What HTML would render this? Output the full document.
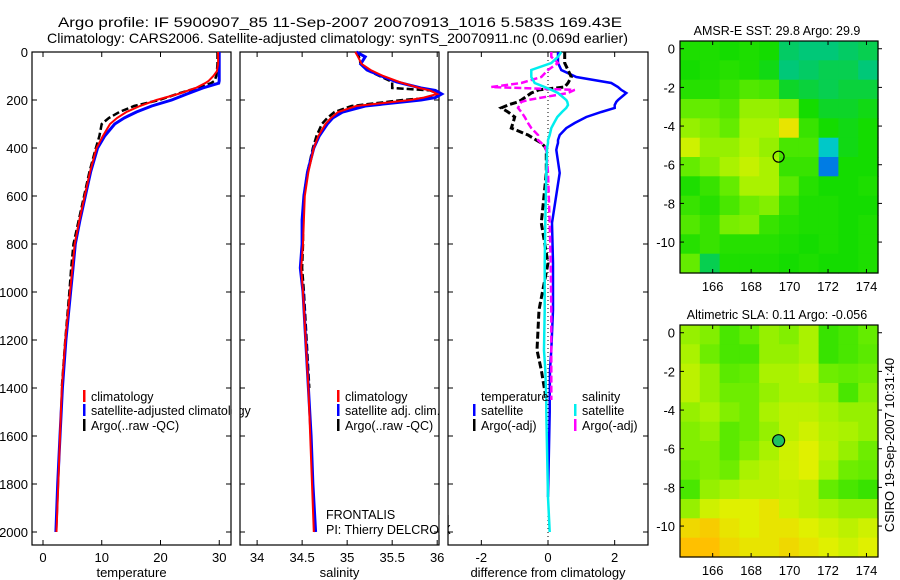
<!DOCTYPE html>
<html><head><meta charset="utf-8"><style>
html,body{margin:0;padding:0;background:#fff;}
svg{display:block;font-family:"Liberation Sans",sans-serif;}
</style></head><body>
<svg id="chart" width="900" height="580" viewBox="0 0 900 580" xmlns="http://www.w3.org/2000/svg">
<text x="58" y="27" font-size="14" textLength="564" lengthAdjust="spacingAndGlyphs">Argo profile: IF 5900907_85 11-Sep-2007 20070913_1016 5.583S 169.43E</text>
<text x="47" y="43" font-size="14" textLength="581" lengthAdjust="spacingAndGlyphs">Climatology: CARS2006. Satellite-adjusted climatology: synTS_20070911.nc (0.069d earlier)</text>
<g id="g"></g>
<text transform="translate(894,445) rotate(-90)" font-size="13" text-anchor="middle">CSIRO 19-Sep-2007 10:31:40</text>
</svg>
<script>
// ---- data ----
const depthT = [0,50,80,100,120,130,150,175,200,225,250,275,300,350,400,500,600,700,800,900,1000,1200,1400,1600,1800,2000];
const tempClim = [29.8,29.8,29.6,29.0,28.2,27.6,26.0,23.0,19.3,16.5,14.2,12.6,11.4,10.2,9.1,8.0,7.1,6.2,5.4,5.0,4.6,3.8,3.2,2.9,2.6,2.3];
const tempSat  = [30.0,30.0,30.0,30.0,30.0,29.9,27.2,24.5,21.9,18.5,15.9,13.8,12.2,10.5,9.3,8.1,7.2,6.3,5.5,5.1,4.7,3.9,3.3,2.9,2.5,2.2];
const tempArgo = [29.7,29.7,29.6,29.5,29.2,28.6,26.2,22.8,19.8,15.5,13.0,11.2,10.0,9.6,9.0,7.9,7.0,6.1,5.2,4.8,4.5,3.8,3.2,null,null,null];
const depthS = [0,20,50,75,100,125,150,160,175,190,200,225,250,275,300,350,400,500,600,700,800,900,1000,1200,1400,1600,1800,2000];
const salClim = [35.09,35.12,35.16,35.26,35.40,35.58,35.80,35.92,36.00,35.85,35.70,35.10,34.90,34.82,34.76,34.68,34.63,34.57,34.53,34.52,34.51,34.49,34.51,34.54,34.57,34.59,34.61,34.63];
const salSat  = [35.10,35.20,35.15,35.22,35.38,35.55,35.82,35.98,36.05,35.98,35.82,35.20,34.95,34.84,34.78,34.69,34.63,34.56,34.52,34.50,34.50,34.48,34.51,34.54,34.57,34.60,34.62,34.65];
const salArgo = [35.10,35.13,35.15,35.22,35.36,35.50,35.50,35.92,36.02,35.95,35.62,35.05,34.86,34.78,34.72,34.66,34.62,34.56,34.52,34.51,34.51,34.50,34.52,34.55,34.58,null,null,null];
const depthD = [0,20,46,75,104,129,146,158,171,200,208,221,233,250,271,296,317,346,367,379,394,408,504,712,880,1075,1242,1325,1450,1500,1854,2000];
const dTempSat = [0.3,0.3,0.3,0.4,0.85,1.9,2.1,2.2,2.35,2.1,2.05,2.0,2.0,1.6,1.15,0.8,0.55,0.35,0.3,0.3,0.27,0.25,0.35,0.12,0.15,0.15,0.1,0.06,0.05,0.05,0.0,null];
const dSalSat  = [0.4,0.3,0.1,-0.5,-0.5,-0.4,-0.1,0.1,0.3,0.55,0.58,0.6,0.55,0.42,0.28,0.18,0.1,0.05,0.0,0.0,-0.02,-0.03,-0.05,-0.08,-0.1,-0.1,-0.12,-0.08,-0.05,-0.05,0.0,0.05];
const dTempArgo= [0.5,0.5,0.5,0.6,0.7,0.6,0.5,-0.27,-0.5,-0.8,-0.9,-1.2,-1.4,-1.2,-1.0,-1.05,-1.1,-0.6,-0.35,-0.2,-0.1,-0.05,-0.05,-0.2,0.0,-0.27,-0.33,-0.2,-0.05,null,null,null];
const dSalArgo = [0.1,0.1,0.3,0.0,-0.2,-0.8,-1.7,0.8,0.6,-0.6,-0.8,-0.85,-0.9,-0.8,-0.7,-0.6,-0.5,-0.3,-0.3,-0.2,-0.1,-0.05,0.0,0.05,0.08,0.1,0.1,0.1,0.1,null,null,null];
const depthTicks = [0,200,400,600,800,1000,1200,1400,1600,1800,2000];
const tempTicks = [0,10,20,30];
const salTicks = [34,34.5,35,35.5,36];
const diffTicks = [-2,0,2];
const lonTicks = [166,168,170,172,174];
const latTicks = [0,-2,-4,-6,-8,-10];
const sstGrid = [
[0.47,0.47,0.46,0.47,0.46,0.41,0.40,0.40,0.41,0.42],
[0.46,0.47,0.48,0.47,0.45,0.40,0.41,0.42,0.42,0.40],
[0.48,0.48,0.50,0.53,0.52,0.44,0.43,0.42,0.43,0.43],
[0.55,0.55,0.53,0.60,0.60,0.58,0.46,0.44,0.44,0.45],
[0.60,0.58,0.55,0.62,0.62,0.70,0.50,0.46,0.45,0.46],
[0.66,0.60,0.60,0.63,0.60,0.52,0.52,0.35,0.45,0.46],
[0.55,0.58,0.62,0.65,0.62,0.50,0.50,0.30,0.46,0.46],
[0.47,0.50,0.55,0.62,0.62,0.54,0.48,0.46,0.46,0.47],
[0.50,0.48,0.52,0.56,0.58,0.50,0.47,0.47,0.46,0.46],
[0.53,0.50,0.57,0.58,0.50,0.48,0.47,0.47,0.46,0.47],
[0.48,0.50,0.48,0.48,0.48,0.47,0.46,0.47,0.46,0.47],
[0.55,0.42,0.47,0.47,0.47,0.46,0.47,0.46,0.46,0.47]];
const slaGrid = [
[0.60,0.58,0.52,0.55,0.60,0.58,0.62,0.50,0.52,0.55],
[0.62,0.56,0.52,0.52,0.60,0.60,0.62,0.50,0.52,0.54],
[0.64,0.60,0.54,0.55,0.62,0.62,0.64,0.56,0.55,0.56],
[0.64,0.60,0.56,0.56,0.60,0.62,0.62,0.60,0.52,0.58],
[0.60,0.62,0.58,0.56,0.62,0.64,0.64,0.62,0.60,0.60],
[0.58,0.60,0.54,0.56,0.60,0.64,0.66,0.63,0.62,0.60],
[0.58,0.58,0.54,0.58,0.62,0.66,0.68,0.64,0.60,0.56],
[0.56,0.58,0.56,0.62,0.64,0.66,0.68,0.62,0.56,0.55],
[0.52,0.60,0.62,0.64,0.64,0.65,0.64,0.55,0.52,0.50],
[0.60,0.66,0.68,0.68,0.70,0.66,0.64,0.62,0.60,0.60],
[0.72,0.74,0.70,0.68,0.70,0.70,0.68,0.66,0.64,0.66],
[0.76,0.76,0.72,0.70,0.70,0.72,0.70,0.68,0.66,0.68]];
const floatPos = [169.43,-5.583];

// ---- drawing ----
const NS='http://www.w3.org/2000/svg';
const G=document.getElementById('g');
function mk(tag,attrs,parent){const e=document.createElementNS(NS,tag);for(const k in attrs)e.setAttribute(k,attrs[k]);(parent||G).appendChild(e);return e;}
const PT=52,PB=545;
const yD=d=>PT+d*0.24;
const panels=[
 {x0:32,x1:231,vmin:-1.87,vmax:32.0,ticks:tempTicks,title:'temperature',name:'temperature-panel'},
 {x0:240,x1:439,vmin:33.81,vmax:36.02,ticks:salTicks,title:'salinity',name:'salinity-panel'},
 {x0:448,x1:648,vmin:-3.0,vmax:3.0,ticks:diffTicks,title:'difference from climatology',name:'difference-panel'}];
panels.forEach(p=>{p.sx=v=>p.x0+(v-p.vmin)/(p.vmax-p.vmin)*(p.x1-p.x0);});
function line(p,depths,vals,color,w,dash,name){
 let d='',pen=false;
 vals.forEach((v,i)=>{if(v===null){pen=false;return;}d+=(pen?'L':'M')+p.sx(v).toFixed(1)+','+yD(depths[i]).toFixed(1);pen=true;});
 const e=mk('path',{d:d,fill:'none',stroke:color,'stroke-width':w});
 if(dash)e.setAttribute('stroke-dasharray',dash);
 
 
}
panels.forEach((p,pi)=>{
 const g=mk('g',{});
 
 
 const fr=mk('rect',{x:p.x0,y:PT,width:p.x1-p.x0,height:PB-PT,fill:'none',stroke:'#000','stroke-width':1.2},g);
 
 
 depthTicks.forEach(d=>{
  mk('line',{x1:p.x0,x2:p.x0+5,y1:yD(d),y2:yD(d),stroke:'#000'},g);
  mk('line',{x1:p.x1-5,x2:p.x1,y1:yD(d),y2:yD(d),stroke:'#000'},g);
  if(pi===0){const t=mk('text',{x:28,y:yD(d)+5,'font-size':13,'text-anchor':'end'},g);t.textContent=d;
   
   }
 });
 p.ticks.forEach(v=>{
  const x=p.sx(v);
  mk('line',{x1:x,x2:x,y1:PT,y2:PT+5,stroke:'#000'},g);
  mk('line',{x1:x,x2:x,y1:PB-5,y2:PB,stroke:'#000'},g);
  const t=mk('text',{x:x,y:562,'font-size':13,'text-anchor':'middle'},g);t.textContent=v;
  
  
 });
 const t=mk('text',{x:(p.x0+p.x1)/2,y:577,'font-size':13,'text-anchor':'middle'},g);t.textContent=p.title;
 
 
});
const [P1,P2,P3]=panels;
mk('line',{x1:P3.sx(0),x2:P3.sx(0),y1:PT,y2:PB,stroke:'#000','stroke-dasharray':'1,3'});
line(P1,depthT,tempArgo,'#000',2.5,'7,3','temp-argo-line');
line(P1,depthT,tempSat,'#0000ff',3,null,'temp-satellite-line');
line(P1,depthT,tempClim,'#ff0000',2,null,'temp-climatology-line');
line(P2,depthS,salArgo,'#000',2.5,'7,3','sal-argo-line');
line(P2,depthS,salSat,'#0000ff',3,null,'sal-satellite-line');
line(P2,depthS,salClim,'#ff0000',2,null,'sal-climatology-line');
line(P3,depthD,dTempSat,'#0000ff',2.5,null,'diff-temp-satellite-line');
line(P3,depthD,dTempArgo,'#000',3,'7,3','diff-temp-argo-line');
line(P3,depthD,dSalArgo,'#ff00ff',2.5,'7,3','diff-sal-argo-line');
line(P3,depthD,dSalSat,'#00eeee',2.5,null,'diff-sal-satellite-line');
function legend(x,y,color,label){
 if(color){const m=mk('rect',{x:x-8,y:y-7,width:2.5,height:12,fill:color});
  
  }
 const t=mk('text',{x:x,y:y+4,'font-size':12.5},G);t.textContent=label;
 
 
}
legend(91,397,'#ff0000','climatology');
legend(91,411,'#0000ff','satellite-adjusted climatology');
legend(91,426,'#000','Argo(..raw -QC)');
legend(345,397,'#ff0000','climatology');
legend(345,411,'#0000ff','satellite adj. clim.');
legend(345,426,'#000','Argo(..raw -QC)');
legend(481,397,null,'temperature');
legend(481,411,'#0000ff','satellite');
legend(481,426,'#000','Argo(-adj)');
legend(582,397,null,'salinity');
legend(582,411,'#00eeee','satellite');
legend(582,426,'#ff00ff','Argo(-adj)');
mk('rect',{x:231.6,y:380,width:8,height:50,fill:'#fff'});
mk('line',{x1:240,x2:240,y1:380,y2:430,stroke:'#000','stroke-width':1.2});
legend(326,515,null,'FRONTALIS');
legend(326,530,null,'PI: Thierry DELCROIX');
mk('rect',{x:439.6,y:515,width:8,height:20,fill:'#fff'});
mk('line',{x1:448,x2:448,y1:515,y2:535,stroke:'#000','stroke-width':1.2});

// colormap
const stops=[[0.25,[0,48,255]],[0.35,[0,200,200]],[0.40,[0,200,120]],[0.46,[20,220,0]],[0.55,[100,236,0]],[0.62,[170,242,0]],[0.68,[224,240,0]],[0.76,[255,192,0]],[0.85,[255,128,0]]];
function cmap(v){
 if(v<=stops[0][0])return 'rgb('+stops[0][1]+')';
 for(let i=1;i<stops.length;i++){if(v<=stops[i][0]){const a=stops[i-1],b=stops[i],f=(v-a[0])/(b[0]-a[0]);
  return 'rgb('+a[1].map((c,k)=>Math.round(c+(b[1][k]-c)*f)).join(',')+')';}}
 return 'rgb('+stops[stops.length-1][1]+')';
}
function map(y0,y1,grid,title,name,filled){
 const x0=680,x1=878,lonMin=164.3,lonMax=174.6,latMax=0.4,latMin=-11.6;
 const sx=l=>x0+(l-lonMin)/(lonMax-lonMin)*(x1-x0);
 const sy=l=>y0+(latMax-l)/(latMax-latMin)*(y1-y0);
 const g=mk('g',{});
 
 
 const rows=grid.length,cols=grid[0].length;
 const cw=(lonMax-lonMin)/cols,ch=(latMax-latMin)/rows;
 grid.forEach((row,r)=>row.forEach((v,c)=>{
  const xa=sx(lonMin+c*cw),xb=sx(lonMin+(c+1)*cw),ya=sy(latMax-r*ch),yb=sy(latMax-(r+1)*ch);
  const e=mk('rect',{x:xa.toFixed(1),y:ya.toFixed(1),width:(xb-xa+0.6).toFixed(1),height:(yb-ya+0.6).toFixed(1),fill:cmap(v)},g);
  
  
 }));
 const fr=mk('rect',{x:x0,y:y0,width:x1-x0,height:y1-y0,fill:'none',stroke:'#000','stroke-width':1.2},g);
 
 
 lonTicks.forEach(l=>{const x=sx(l);
  mk('line',{x1:x,x2:x,y1:y1,y2:y1-4,stroke:'#000'},g);mk('line',{x1:x,x2:x,y1:y0,y2:y0+4,stroke:'#000'},g);
  const t=mk('text',{x:x,y:y1+18,'font-size':13,'text-anchor':'middle'},g);t.textContent=l;
  
  });
 latTicks.forEach(l=>{const y=sy(l);
  mk('line',{x1:x0,x2:x0+4,y1:y,y2:y,stroke:'#000'},g);mk('line',{x1:x1,x2:x1+4,y1:y,y2:y,stroke:'#000'},g);
  const t=mk('text',{x:675,y:y+5,'font-size':13,'text-anchor':'end'},g);t.textContent=l;
  
  });
 const t=mk('text',{x:777,y:y0-6,'font-size':12.5,'text-anchor':'middle'},g);t.textContent=title;
 
 
 const c=mk('circle',{cx:sx(floatPos[0]),cy:sy(floatPos[1]),r:filled?6:5.5,fill:filled?'#20c060':'none',stroke:'#000','stroke-width':1.2},g);
 
 
}
map(41,273,sstGrid,'AMSR-E SST: 29.8 Argo: 29.9','sst-map',false);
map(325,557,slaGrid,'Altimetric SLA: 0.11 Argo: -0.056','sla-map',true);
</script>
</body></html>
